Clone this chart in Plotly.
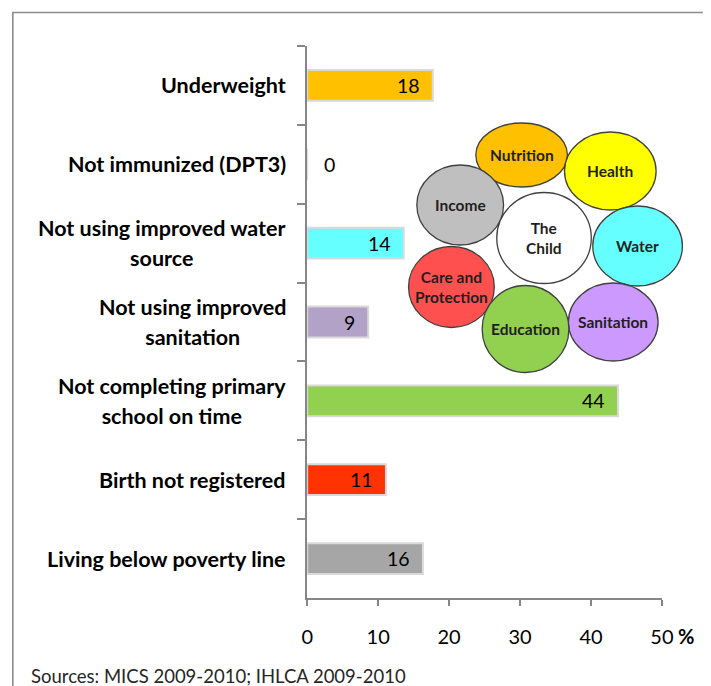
import plotly.graph_objects as go

# ---------------- data ----------------
categories = [
    "Underweight",
    "Not immunized (DPT3)",
    "Not using improved water<br>source",
    "Not using improved<br>sanitation",
    "Not completing primary<br>school on time",
    "Birth not registered",
    "Living below poverty line",
]
values = [17.7, 0, 13.6, 8.6, 43.8, 11.1, 16.3]
value_labels = ["18", "0", "14", "9", "44", "11", "16"]
bar_colors = ["#FFC000", "#FFC000", "#66FFFF", "#B3A2C7", "#92D050", "#FF3300", "#A6A6A6"]
x_ticks = [0, 10, 20, 30, 40, 50]
source_note = "Sources: MICS 2009-2010; IHLCA 2009-2010"

dimensions = ["Nutrition", "Health", "Water", "Sanitation", "Income",
              "Care and<br>Protection", "Education", "The<br>Child"]
dimension_colors = ["#FFC000", "#FFFF00", "#66FFFF", "#CC99FF", "#BFBFBF",
                    "#FF5050", "#92D050", "#FFFFFF"]

# ---------------- layout helpers ----------------
W, H = 711, 686
FONT = "Lato, 'Open Sans', sans-serif"


def px(x):
    return x / W


def py(y):
    return 1 - y / H


# circle geometry in pixels: (cx, cy, rx, ry)
circle_geom = [
    (529, 155, 47, 32),
    (620, 171, 47, 39),
    (648, 246, 46, 40),
    (623, 322, 46, 39),
    (466, 205, 44.5, 40),
    (457, 287, 44, 40.5),
    (533, 329, 44.5, 43.5),
    (552, 238, 48.5, 45.5),
]

fig = go.Figure()
fig.add_trace(go.Bar(
    x=values, y=categories, orientation="h",
    marker=dict(color=bar_colors, line=dict(color="#D9D9D9", width=2)),
    width=0.39, hoverinfo="skip",
))

annotations = []
# value labels
for c, v, lab in zip(categories, values, value_labels):
    if v > 0:
        annotations.append(dict(x=v, y=c, xref="x", yref="y", text=lab,
                                showarrow=False, xanchor="right", xshift=-11,
                                font=dict(family=FONT, size=19.5, color="#000000")))
    else:
        annotations.append(dict(x=v, y=c, xref="x", yref="y", text=lab,
                                showarrow=False, xanchor="left", xshift=15,
                                font=dict(family=FONT, size=19.5, color="#000000")))

# category labels (block right aligned, lines centred)
LBL = "<span style='font-size:21.5px'>"
for c in categories:
    annotations.append(dict(
        x=px(289), y=c, xref="paper", yref="y",
        text=LBL + c.replace("<br>", "</span><br>" + LBL) + "</span>",
        showarrow=False, xanchor="right", align="center",
        font=dict(family=FONT, size=23, color="#000000", weight="bold"),
    ))

# circle labels
for (cx, cy, rx, ry), name in zip(circle_geom, dimensions):
    annotations.append(dict(
        x=px(cx), y=py(cy), xref="paper", yref="paper",
        text=name,
        showarrow=False, align="center", xanchor="center", yanchor="middle",
        font=dict(family=FONT, size=15.5, color="#1F1F1F", weight="bold"),
    ))

# percent sign
annotations.append(dict(x=px(698), y=py(636), xref="paper", yref="paper", text="%",
                        showarrow=False, xanchor="center", yanchor="middle",
                        font=dict(family=FONT, size=20, color="#000000", weight="bold")))
# sources
annotations.append(dict(x=px(24), y=py(676), xref="paper", yref="paper", text=source_note,
                        showarrow=False, xanchor="left", yanchor="middle",
                        font=dict(family=FONT, size=18.5, color="#262626")))

shapes = []
# frame
shapes.append(dict(type="path", xref="paper", yref="paper",
                   path=f"M {px(7)} {py(690)} L {px(7)} {py(12.5)} L {px(715)} {py(12.5)}",
                   line=dict(color="#8C8C8C", width=1.6)))
for (cx, cy, rx, ry), col in zip(circle_geom, dimension_colors):
    shapes.append(dict(type="circle", xref="paper", yref="paper",
                       x0=px(cx - rx), x1=px(cx + rx), y0=py(cy + ry), y1=py(cy - ry),
                       fillcolor=col, line=dict(color="#404040", width=1.3)))

fig.update_layout(
    width=W, height=H, autosize=False, margin=dict(l=0, r=0, t=0, b=0),
    plot_bgcolor="white", paper_bgcolor="white", showlegend=False,
    annotations=annotations, shapes=shapes,
    xaxis=dict(domain=[px(309), px(673)], range=[0, 50], tickvals=x_ticks,
               ticks="outside", ticklen=6, tickwidth=2, tickcolor="#868686",
               showline=True, linecolor="#868686", linewidth=2,
               showgrid=False, zeroline=False, ticklabelstandoff=14,
               tickfont=dict(family=FONT, size=20, color="#000000")),
    yaxis=dict(domain=[py(598), py(46)], type="category", autorange="reversed",
               showline=True, linecolor="#868686", linewidth=2,
               ticks="outside", tickson="boundaries", ticklen=8, tickwidth=2,
               tickcolor="#868686", showticklabels=False, showgrid=False, zeroline=False),
)

fig.write_html("out.html", config={"responsive": False},
               post_script="document.body.style.margin='0';document.body.style.overflow='hidden';")
